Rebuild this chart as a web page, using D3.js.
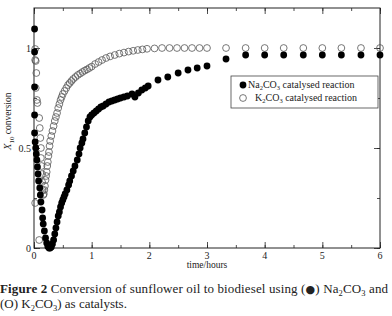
<!DOCTYPE html>
<html>
<head>
<meta charset="utf-8">
<script src="https://cdn.jsdelivr.net/npm/d3@7"></script>
<style>
  body { margin: 0; background: #fff; }
  svg { display: block; }
</style>
</head>
<body>
<div id="chart"></div>
<script>
(function () {
  "use strict";

  // ── Datos ──────────────────────────────────────────────
  // Na2CO3: tiempo (h) y conversión
  const naTime = [0.01, 0.01, 0.01, 0.01, 0.01, 0.02, 0.03, 0.04, 0.05, 0.06, 0.07, 0.08, 0.10, 0.11, 0.12, 0.14, 0.15, 0.16, 0.18, 0.20, 0.22, 0.24, 0.26, 0.28, 0.30, 0.32, 0.34, 0.36, 0.38, 0.40, 0.42, 0.44, 0.46, 0.48, 0.50, 0.52, 0.54, 0.57, 0.60, 0.62, 0.65, 0.68, 0.71, 0.75, 0.78, 0.80, 0.83, 0.85, 0.88, 0.91, 0.94, 0.97, 1.00, 1.04, 1.08, 1.12, 1.16, 1.20, 1.25, 1.30, 1.35, 1.40, 1.45, 1.50, 1.56, 1.62, 1.70, 1.75, 1.81, 1.87, 1.93, 1.98, 2.15, 2.32, 2.50, 2.67, 2.83, 3.00, 3.33, 3.67, 4.00, 4.33, 4.67, 5.00, 5.33, 5.67, 6.00];
  const naConv = [1.095, 0.98, 0.805, 0.665, 0.575, 0.53, 0.5, 0.47, 0.44, 0.405, 0.37, 0.335, 0.3, 0.265, 0.23, 0.19, 0.15, 0.12, 0.085, 0.05, 0.025, 0.008, 0.0, 0.0, 0.005, 0.02, 0.04, 0.07, 0.1, 0.13, 0.16, 0.18, 0.205, 0.225, 0.24, 0.255, 0.27, 0.29, 0.315, 0.335, 0.36, 0.385, 0.41, 0.44, 0.47, 0.5, 0.525, 0.545, 0.575, 0.605, 0.635, 0.655, 0.665, 0.675, 0.685, 0.695, 0.705, 0.71, 0.72, 0.73, 0.735, 0.74, 0.745, 0.75, 0.755, 0.76, 0.77, 0.755, 0.775, 0.79, 0.8, 0.81, 0.84, 0.855, 0.875, 0.89, 0.9, 0.91, 0.945, 0.965, 0.965, 0.965, 0.965, 0.965, 0.965, 0.965, 0.965];

  // K2CO3: tiempo (h) y conversión
  const kTime = [0.02, 0.02, 0.03, 0.04, 0.03, 0.05, 0.06, 0.09, 0.10, 0.11, 0.12, 0.12, 0.13, 0.14, 0.14, 0.15, 0.16, 0.17, 0.18, 0.19, 0.20, 0.21, 0.22, 0.23, 0.24, 0.25, 0.26, 0.27, 0.28, 0.30, 0.32, 0.34, 0.36, 0.38, 0.40, 0.42, 0.44, 0.46, 0.48, 0.50, 0.53, 0.56, 0.59, 0.62, 0.65, 0.68, 0.72, 0.76, 0.80, 0.84, 0.88, 0.92, 0.96, 1.00, 1.06, 1.12, 1.18, 1.25, 1.32, 1.40, 1.48, 1.56, 1.64, 1.72, 1.80, 1.88, 1.96, 2.09, 2.22, 2.35, 2.48, 2.61, 2.74, 2.87, 3.00, 3.33, 3.67, 4.00, 4.33, 4.67, 5.00, 5.33, 5.67, 6.00, 0.02, 0.09];
  const kConv = [0.995, 0.94, 0.935, 0.875, 0.8, 0.74, 0.725, 0.65, 0.6, 0.55, 0.5, 0.45, 0.41, 0.37, 0.33, 0.29, 0.265, 0.27, 0.29, 0.31, 0.34, 0.36, 0.38, 0.41, 0.43, 0.46, 0.48, 0.51, 0.535, 0.56, 0.585, 0.61, 0.635, 0.655, 0.675, 0.7, 0.72, 0.74, 0.755, 0.77, 0.785, 0.8, 0.815, 0.825, 0.835, 0.845, 0.855, 0.865, 0.872, 0.88, 0.887, 0.893, 0.9, 0.907, 0.92, 0.93, 0.94, 0.95, 0.958, 0.965, 0.972, 0.977, 0.982, 0.986, 0.99, 0.993, 0.996, 0.998, 1.0, 1.0, 1.0, 1.0, 1.0, 1.0, 1.0, 1.0, 1.0, 1.0, 1.0, 1.0, 1.0, 1.0, 1.0, 1.0, 0.225, 0.04];

  const xTicks = [0, 1, 2, 3, 4, 5, 6];
  const yTickLabels = [0, 0.5, 1];

  // ── Configuración ──────────────────────────────────────
  const width = 392;
  const height = 316;
  const MARGIN = { top: 8, right: 12, bottom: 68, left: 34 };
  const innerWidth = width - MARGIN.left - MARGIN.right;
  const innerHeight = height - MARGIN.top - MARGIN.bottom;
  const SERIF = "'Liberation Serif', 'Times New Roman', serif";
  const R = 3.4;

  const svg = d3.select("#chart").append("svg").attr("width", width).attr("height", height);
  const g = svg.append("g").attr("transform", `translate(${MARGIN.left},${MARGIN.top})`);

  // Escalas
  const x = d3.scaleLinear().domain([0, 6]).range([0, innerWidth]);
  const y = d3.scaleLinear().domain([0, 1.2]).range([innerHeight, 0]);

  // Ejes (ticks hacia adentro)
  const minorX = d3.range(0, 6.01, 0.5);
  const minorY = d3.range(0, 1.21, 0.25);

  function tickSet(axisFn, scale, values, size) {
    return axisFn(scale).tickValues(values).tickSizeInner(size).tickSizeOuter(0).tickFormat("");
  }

  const gx = g.append("g").attr("transform", `translate(0,${innerHeight})`);
  gx.call(tickSet(d3.axisTop, x, minorX, 3));
  gx.append("g").call(tickSet(d3.axisTop, x, xTicks, 6));

  const gxTop = g.append("g");
  gxTop.call(tickSet(d3.axisBottom, x, minorX, 3));
  gxTop.append("g").call(tickSet(d3.axisBottom, x, xTicks, 6));

  const gy = g.append("g");
  gy.call(tickSet(d3.axisRight, y, minorY, 3));
  gy.append("g").call(tickSet(d3.axisRight, y, yTickLabels, 6));

  const gyR = g.append("g").attr("transform", `translate(${innerWidth},0)`);
  gyR.call(tickSet(d3.axisLeft, y, minorY, 3));
  gyR.append("g").call(tickSet(d3.axisLeft, y, yTickLabels, 6));

  g.selectAll(".domain").remove();
  g.selectAll(".tick line").attr("stroke", "#222").attr("stroke-width", 0.8);

  // Marco
  g.append("rect")
    .attr("width", innerWidth)
    .attr("height", innerHeight)
    .attr("fill", "none")
    .attr("stroke", "#222")
    .attr("stroke-width", 1);

  // Etiquetas de ticks
  g.selectAll(".xlab")
    .data(xTicks)
    .join("text")
    .attr("x", (d) => x(d))
    .attr("y", innerHeight + 11)
    .attr("text-anchor", "middle")
    .attr("font-family", SERIF)
    .attr("font-size", 10)
    .attr("fill", "#222")
    .text((d) => d);

  g.selectAll(".ylab")
    .data(yTickLabels)
    .join("text")
    .attr("x", -3)
    .attr("y", (d) => y(d) + 3.5)
    .attr("text-anchor", "end")
    .attr("font-family", SERIF)
    .attr("font-size", 10)
    .attr("fill", "#222")
    .text((d) => d);

  // Títulos de ejes
  svg.append("text")
    .attr("x", MARGIN.left + innerWidth / 2)
    .attr("y", 268)
    .attr("text-anchor", "middle")
    .attr("font-family", SERIF)
    .attr("font-size", 9.5)
    .attr("fill", "#222")
    .text("time/hours");

  const yTitle = svg.append("text")
    .attr("transform", "translate(11,150) rotate(-90)")
    .attr("font-family", SERIF)
    .attr("font-size", 9.5)
    .attr("fill", "#222");
  yTitle.append("tspan").attr("font-style", "italic").attr("font-size", 10.5).text("X");
  yTitle.append("tspan").attr("font-size", 7).attr("dy", 2.5).text("10");
  yTitle.append("tspan").attr("dy", -2.5).text(" conversion");

  // Datos
  const naData = naTime.map((t, i) => ({ t, v: naConv[i] }));
  const kData = kTime.map((t, i) => ({ t, v: kConv[i] }));

  g.append("g")
    .selectAll("circle")
    .data(kData)
    .join("circle")
    .attr("cx", (d) => x(d.t))
    .attr("cy", (d) => y(d.v))
    .attr("r", R)
    .attr("fill", "none")
    .attr("stroke", "#555")
    .attr("stroke-width", 0.8);

  g.append("g")
    .selectAll("circle")
    .data(naData)
    .join("circle")
    .attr("cx", (d) => x(d.t))
    .attr("cy", (d) => y(d.v))
    .attr("r", R)
    .attr("fill", "#000");

  // Leyenda
  const leg = svg.append("g").attr("transform", "translate(231,76)");
  leg.append("rect")
    .attr("width", 147)
    .attr("height", 32)
    .attr("fill", "#fff")
    .attr("stroke", "#444")
    .attr("stroke-width", 0.8);

  const legendItems = [
    { fill: "#000", stroke: "none", pre: "Na", mid: "CO", post: " catalysed reaction", tx: 17 },
    { fill: "none", stroke: "#555", pre: "K", mid: "CO", post: " catalysed reaction", tx: 24 },
  ];
  legendItems.forEach((it, i) => {
    const cy = 9 + i * 13;
    leg.append("circle")
      .attr("cx", 12)
      .attr("cy", cy)
      .attr("r", R)
      .attr("fill", it.fill)
      .attr("stroke", it.stroke)
      .attr("stroke-width", 0.8);
    const tx = leg.append("text")
      .attr("x", it.tx)
      .attr("y", cy + 3)
      .attr("font-family", SERIF)
      .attr("font-size", 10)
      .attr("fill", "#222");
    tx.append("tspan").text(it.pre);
    tx.append("tspan").attr("font-size", 6.5).attr("dy", 2).text("2");
    tx.append("tspan").attr("dy", -2).text(it.mid);
    tx.append("tspan").attr("font-size", 6.5).attr("dy", 2).text("3");
    tx.append("tspan").attr("dy", -2).text(it.post);
  });

  // Pie de figura
  const CAP = "'Liberation Serif', 'DejaVu Serif', serif";
  const capSize = 13;
  const cap1 = svg.append("text")
    .attr("x", 0)
    .attr("y", 293)
    .attr("font-family", CAP)
    .attr("font-size", capSize)
    .attr("fill", "#222")
    .attr("textLength", 388)
    .attr("lengthAdjust", "spacing");
  cap1.append("tspan").attr("font-weight", "bold").text("Figure 2");
  cap1.append("tspan").text("  Conversion of sunflower oil to biodiesel using (");
  cap1.append("tspan").attr("font-family", "'DejaVu Sans', sans-serif").attr("font-size", 11).text("\u25CF");
  cap1.append("tspan").text(") Na");
  cap1.append("tspan").attr("font-size", 8.5).attr("dy", 2.5).text("2");
  cap1.append("tspan").attr("dy", -2.5).text("CO");
  cap1.append("tspan").attr("font-size", 8.5).attr("dy", 2.5).text("3");
  cap1.append("tspan").attr("dy", -2.5).text(" and");

  const cap2 = svg.append("text")
    .attr("x", 0)
    .attr("y", 308)
    .attr("font-family", CAP)
    .attr("font-size", capSize)
    .attr("fill", "#222");
  cap2.append("tspan").text("(O) K");
  cap2.append("tspan").attr("font-size", 8.5).attr("dy", 2.5).text("2");
  cap2.append("tspan").attr("dy", -2.5).text("CO");
  cap2.append("tspan").attr("font-size", 8.5).attr("dy", 2.5).text("3");
  cap2.append("tspan").attr("dy", -2.5).text(") as catalysts.");
})();
</script>
</body>
</html>
